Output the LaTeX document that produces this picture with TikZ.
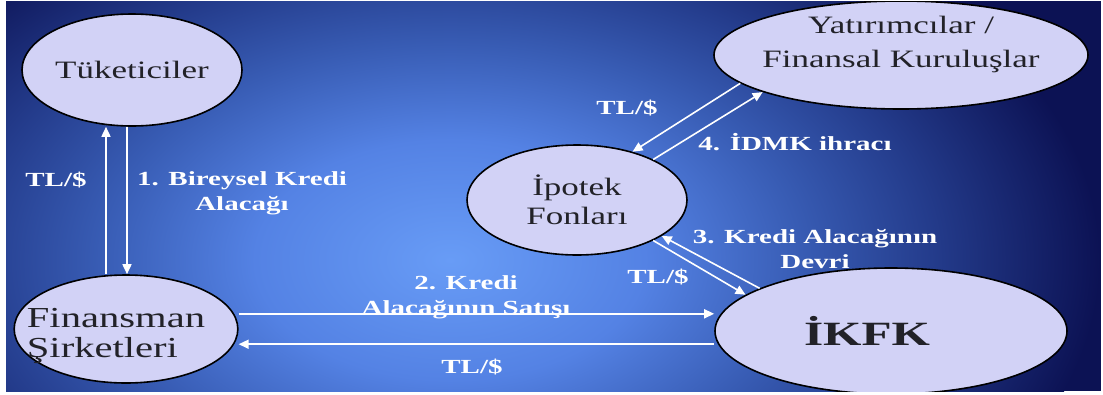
\documentclass[tikz,border=0pt]{standalone}
\usepackage{fontspec}
\setmainfont{Liberation Serif}
\newfontfamily\nodefont{Liberation Serif}[FakeStretch=1.4]
\newfontfamily\labfont{Liberation Serif}[FakeStretch=1.45]
\usetikzlibrary{shapes.geometric,arrows.meta}
\definecolor{entfill}{RGB}{210,210,246}
\definecolor{nodetext}{RGB}{34,34,40}
\definecolor{bgA}{RGB}{104,156,246}
\definecolor{bgB}{RGB}{84,130,228}
\definecolor{bgC}{RGB}{56,92,180}
\definecolor{bgD}{RGB}{36,60,140}
\definecolor{bgE}{RGB}{12,18,84}
\pgfdeclareradialshading{bgshade}{\pgfpoint{0bp}{0bp}}{color(0bp)=(bgA); color(7.5bp)=(bgB); color(13.5bp)=(bgC); color(18.5bp)=(bgD); color(25bp)=(bgE); color(50bp)=(bgE)}
\tikzset{
  ent/.style={ellipse, draw=black, line width=1.6pt, fill=entfill, text=nodetext, inner sep=-20pt,
    font=\nodefont\fontsize{25}{30}\selectfont, align=center},
  arr/.style={draw=white, line width=1.6pt, -{Triangle[length=10pt,width=9pt]}},
  lab/.style={text=white, font=\labfont\bfseries\fontsize{20}{25}\selectfont, align=center, inner sep=0pt},
}
\begin{document}
\begin{tikzpicture}[x=1pt,y=-1pt]
\useasboundingbox (0,0) rectangle (1103,394);
\fill[white] (0,0) rectangle (1103,394);
\begin{scope}
\clip (6,1) rectangle (1101,391);
\fill[bgE] (6,1) rectangle (1101,391);
\shade[shading=bgshade] (450,260) ellipse [x radius=650, y radius=400];

% entities
\node[ent, minimum width=220pt, minimum height=112pt] (tuk) at (132,70) {Tüketiciler};
\node[ent, minimum width=208pt, minimum height=108pt, align=left,
      font=\nodefont\fontsize{29}{30}\selectfont] (fin) at (126,329) {\rule{0pt}{34pt}Finansman\hspace*{20pt}\\Şirketleri};
\node[ent, minimum width=220pt, minimum height=110pt, font=\nodefont\fontsize{25}{29}\selectfont] (ipo) at (577,200) {İpotek\\Fonları};
\node[ent, minimum width=374pt, minimum height=108pt] (yat) at (901,55) {Yatırımcılar /\\[4pt]Finansal Kuruluşlar\rule[-26pt]{0pt}{26pt}};
\node[ent, minimum width=352pt, minimum height=126pt, font=\labfont\bfseries\fontsize{34}{36}\selectfont] (ikfk) at (891,331) {İKFK\hspace*{48pt}};

% connectors
\draw[arr] ([xshift=-20pt]fin.north) -- ([xshift=-26pt]tuk.south);
\draw[arr] ([xshift=-5pt]tuk.south) -- ([xshift=1pt]fin.north);
\draw[arr] (fin.east |- fin.8) -- (ikfk.west |- fin.8);
\draw[arr] (ikfk.west |- fin.-8) -- (fin.east |- fin.-8);
\draw[arr] (ikfk.162) -- (ipo.-23);
\draw[arr] (ipo.-28) -- (ikfk.166);
\draw[arr] (yat.190) -- (ipo.41);
\draw[arr] (ipo.28) -- (yat.195);

% labels
\node[lab] (l1a) at (56,180) {TL/\$};
\node[lab] (l1b) at (242,193) {1. Bireysel Kredi\\Alacağı};
\node[lab] (l2a) at (466,297) {2. Kredi\\Alacağının Satışı};
\node[lab] (l2b) at (472,367) {TL/\$};
\node[lab] (l3a) at (658,277) {TL/\$};
\node[lab] (l3b) at (815,249) {3. Kredi Alacağının\\Devri};
\node[lab] (l4a) at (627,108) {TL/\$};
\node[lab] (l4b) at (795,142) {4. İDMK ihracı};
\end{scope}
\end{tikzpicture}
\end{document}
